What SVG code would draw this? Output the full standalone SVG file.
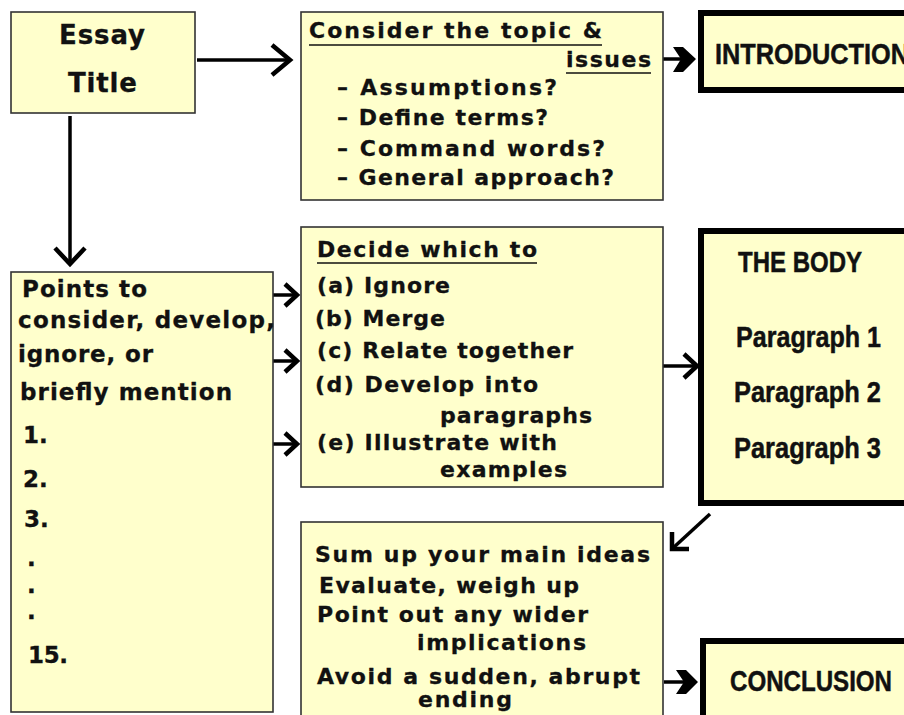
<svg xmlns="http://www.w3.org/2000/svg" width="904" height="715" viewBox="0 0 904 715">
  <style>
    .box { fill: #FFFFCC; stroke: #333; stroke-width: 1.6; }
    .heavy { fill: #FFFFCC; stroke: #000; stroke-width: 6; }
    .t { font-family: "DejaVu Sans", Verdana, sans-serif; font-weight: bold; font-size: 22px; fill: #111; stroke: #111; stroke-width: 0.3; }
    .big { font-size: 26px; }
    .pt { font-size: 23px; }
    .cond { font-family: "Liberation Sans", Arial, sans-serif; font-weight: bold; font-size: 30px; fill: #111; stroke: #111; stroke-width: 0.5; }
    .ul { stroke: #111; stroke-width: 1.6; }
    .line { stroke: #000; stroke-width: 3.5; fill: none; }
    .chev { stroke: #000; stroke-width: 4.5; fill: none; stroke-linejoin: miter; }
    .head { fill: #000; }
  </style>
  <rect width="904" height="715" fill="#fff"/>

  <!-- connectors -->
  <g id="connectors">
    <!-- title to topic box -->
    <line class="line" x1="197" y1="60" x2="289" y2="60"/>
    <polyline class="chev" points="272,45 290,60 272,75"/>
    <!-- title down to points box -->
    <line class="line" x1="70" y1="116" x2="70" y2="263"/>
    <polyline class="chev" points="55,248 70,264 85,248"/>
    <!-- topic box to introduction -->
    <line class="line" x1="663" y1="59" x2="682" y2="59"/>
    <polygon class="head" points="673,47 683,47 696,59 683,72 673,72 681,59"/>
    <!-- points box to decide box -->
    <line class="line" x1="273" y1="295" x2="295" y2="295"/>
    <polyline class="chev" points="285,284 297,295 285,306"/>
    <line class="line" x1="273" y1="361" x2="295" y2="361"/>
    <polyline class="chev" points="285,350 297,361 285,372"/>
    <line class="line" x1="273" y1="444" x2="295" y2="444"/>
    <polyline class="chev" points="285,433 297,444 285,455"/>
    <!-- decide box to body -->
    <line class="line" x1="663" y1="366" x2="695" y2="366"/>
    <polyline class="chev" points="684,354 697,366 684,378"/>
    <!-- body to summary box -->
    <line class="line" x1="710" y1="514" x2="673" y2="548"/>
    <polyline class="chev" points="672,532 672,549 689,549"/>
    <!-- summary box to conclusion -->
    <line class="line" x1="664" y1="682" x2="686" y2="682"/>
    <polygon class="head" points="676,670 686,670 698,682 686,694 676,694 684,682"/>
  </g>

  <!-- essay title -->
  <g id="essay-title">
    <rect class="box" x="11" y="12" width="184" height="101"/>
    <text class="t big" x="59" y="44" textLength="86" lengthAdjust="spacing">Essay</text>
    <text class="t big" x="68" y="92" textLength="69" lengthAdjust="spacing">Title</text>
  </g>

  <!-- consider the topic -->
  <g id="consider-topic">
    <rect class="box" x="301" y="12" width="362" height="188"/>
    <text class="t" x="309" y="38" textLength="293" lengthAdjust="spacing">Consider the topic &amp;</text>
    <line class="ul" x1="309" y1="45" x2="602" y2="45"/>
    <text class="t" x="566" y="67" textLength="85" lengthAdjust="spacing">issues</text>
    <line class="ul" x1="566" y1="73" x2="651" y2="73"/>
    <text class="t" x="337" y="95" textLength="220" lengthAdjust="spacing">– Assumptions?</text>
    <text class="t" x="337" y="125" textLength="211" lengthAdjust="spacing">– Define terms?</text>
    <text class="t" x="337" y="156" textLength="268" lengthAdjust="spacing">– Command words?</text>
    <text class="t" x="337" y="185" textLength="277" lengthAdjust="spacing">– General approach?</text>
  </g>

  <!-- introduction -->
  <g id="introduction">
    <rect class="heavy" x="701" y="13" width="220" height="77"/>
    <text class="cond" x="715" y="64" textLength="194" lengthAdjust="spacingAndGlyphs">INTRODUCTION</text>
  </g>

  <!-- points to consider -->
  <g id="points">
    <rect class="box" x="11" y="272" width="262" height="440"/>
    <text class="t pt" x="22" y="297" textLength="125" lengthAdjust="spacing">Points to</text>
    <text class="t pt" x="18" y="328" textLength="257" lengthAdjust="spacing">consider, develop,</text>
    <text class="t pt" x="18" y="362" textLength="135" lengthAdjust="spacing">ignore, or</text>
    <text class="t pt" x="20" y="400" textLength="212" lengthAdjust="spacing">briefly mention</text>
    <text class="t pt" x="23" y="443">1.</text>
    <text class="t pt" x="23" y="487">2.</text>
    <text class="t pt" x="24" y="527">3.</text>
    <text class="t pt" x="27" y="566">.</text>
    <text class="t pt" x="27" y="593">.</text>
    <text class="t pt" x="27" y="619">.</text>
    <text class="t pt" x="28" y="663" textLength="40" lengthAdjust="spacing">15.</text>
  </g>

  <!-- decide which to -->
  <g id="decide">
    <rect class="box" x="301" y="227" width="362" height="260"/>
    <text class="t" x="317" y="257" textLength="220" lengthAdjust="spacing">Decide which to</text>
    <line class="ul" x1="317" y1="263" x2="537" y2="263"/>
    <text class="t" x="317" y="293" textLength="133" lengthAdjust="spacing">(a) Ignore</text>
    <text class="t" x="315" y="326" textLength="130" lengthAdjust="spacing">(b) Merge</text>
    <text class="t" x="317" y="358" textLength="256" lengthAdjust="spacing">(c) Relate together</text>
    <text class="t" x="315" y="392" textLength="223" lengthAdjust="spacing">(d) Develop into</text>
    <text class="t" x="440" y="423" textLength="152" lengthAdjust="spacing">paragraphs</text>
    <text class="t" x="317" y="450" textLength="240" lengthAdjust="spacing">(e) Illustrate with</text>
    <text class="t" x="440" y="477" textLength="127" lengthAdjust="spacing">examples</text>
  </g>

  <!-- the body -->
  <g id="body">
    <rect class="heavy" x="701" y="231" width="220" height="272"/>
    <text class="cond" x="738" y="272" textLength="124" lengthAdjust="spacingAndGlyphs">THE BODY</text>
    <text class="cond" x="736" y="347" textLength="145" lengthAdjust="spacingAndGlyphs">Paragraph 1</text>
    <text class="cond" x="734" y="402" textLength="147" lengthAdjust="spacingAndGlyphs">Paragraph 2</text>
    <text class="cond" x="734" y="458" textLength="147" lengthAdjust="spacingAndGlyphs">Paragraph 3</text>
  </g>

  <!-- summing up -->
  <g id="sum-up">
    <rect class="box" x="301" y="522" width="362" height="200"/>
    <text class="t" x="315" y="562" textLength="335" lengthAdjust="spacing">Sum up your main ideas</text>
    <text class="t" x="319" y="593" textLength="260" lengthAdjust="spacing">Evaluate, weigh up</text>
    <text class="t" x="317" y="622" textLength="271" lengthAdjust="spacing">Point out any wider</text>
    <text class="t" x="417" y="650" textLength="169" lengthAdjust="spacing">implications</text>
    <text class="t" x="317" y="684" textLength="323" lengthAdjust="spacing">Avoid a sudden, abrupt</text>
    <text class="t" x="418" y="707" textLength="94" lengthAdjust="spacing">ending</text>
  </g>

  <!-- conclusion -->
  <g id="conclusion">
    <rect class="heavy" x="703" y="641" width="220" height="90"/>
    <text class="cond" x="730" y="691" textLength="162" lengthAdjust="spacingAndGlyphs">CONCLUSION</text>
  </g>
</svg>
